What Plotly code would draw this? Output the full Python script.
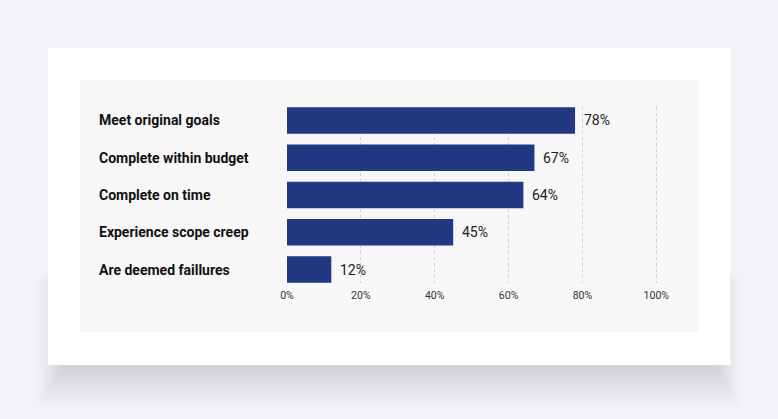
import plotly.graph_objects as go

# data
categories = ["Meet original goals", "Complete within budget", "Complete on time",
              "Experience scope creep", "Are deemed faillures"]
values = [78, 67, 64, 45, 12]
tick_vals = [0, 20, 40, 60, 80, 100]
tick_text = ["0%", "20%", "40%", "60%", "80%", "100%"]
x_max = 101

W, H = 778, 419
L, T, B = 287, 107, 283  # plot area in px
R = L + 3.69 * x_max


def px_x(x):
    return (x - L) / (R - L)


def px_y(y):
    return (B - y) / (B - T)


BAR = "#233882"

fig = go.Figure(go.Bar(
    x=values, y=categories, orientation="h",
    marker=dict(color=BAR, line=dict(width=0)),
    hoverinfo="skip",
))

shapes = []
# soft shadow under the card
for k in range(16):
    s = k * 2
    shapes.append(dict(type="rect", xref="paper", yref="paper", layer="below",
                       x0=px_x(62 - s * 0.8), x1=px_x(716 + s * 0.8),
                       y0=px_y(370 + s * 1.25), y1=px_y(250 + s),
                       fillcolor="rgba(40,40,60,0.0065)", line=dict(width=0)))
# white card
shapes.append(dict(type="rect", xref="paper", yref="paper", layer="below",
                   x0=px_x(48), x1=px_x(730), y0=px_y(365), y1=px_y(48),
                   fillcolor="white", line=dict(width=0)))
# inner gray panel
shapes.append(dict(type="rect", xref="paper", yref="paper", layer="below",
                   x0=px_x(80), x1=px_x(698), y0=px_y(332), y1=px_y(80),
                   fillcolor="#f7f7f7", line=dict(width=0)))

annotations = []
for c, v in zip(categories, values):
    annotations.append(dict(x=px_x(97), xref="paper", y=c, yref="y",
                            text="<b>%s</b>" % c, showarrow=False, xanchor="left",
                            font=dict(family="Roboto", size=14, color="#111111")))
    annotations.append(dict(x=v, xref="x", y=c, yref="y", text="%d%%" % v,
                            showarrow=False, xanchor="left", xshift=7,
                            font=dict(family="Roboto", size=14, color="#222222")))

fig.update_layout(
    width=W, height=H,
    margin=dict(l=L, r=W - R, t=T, b=H - B, pad=0),
    paper_bgcolor="#f2f3f7",
    plot_bgcolor="rgba(0,0,0,0)",
    bargap=0.29,
    showlegend=False,
    shapes=shapes,
    annotations=annotations,
    font=dict(family="Roboto"),
    xaxis=dict(range=[0, x_max], tickvals=tick_vals, ticktext=tick_text,
               showgrid=True, gridcolor="#d0d0d0", griddash="3px,3px", gridwidth=1,
               zeroline=False, showline=False, ticks="",
               tickfont=dict(family="Roboto", size=10.5, color="#333333"),
               ticklabelstandoff=4, fixedrange=True),
    yaxis=dict(autorange=False, range=[4.36, -0.36], showticklabels=False,
               showgrid=False, zeroline=False, showline=False, fixedrange=True),
)

fig.write_html("out.html", config={"displayModeBar": False},
               post_script="document.body.style.margin='0';")
